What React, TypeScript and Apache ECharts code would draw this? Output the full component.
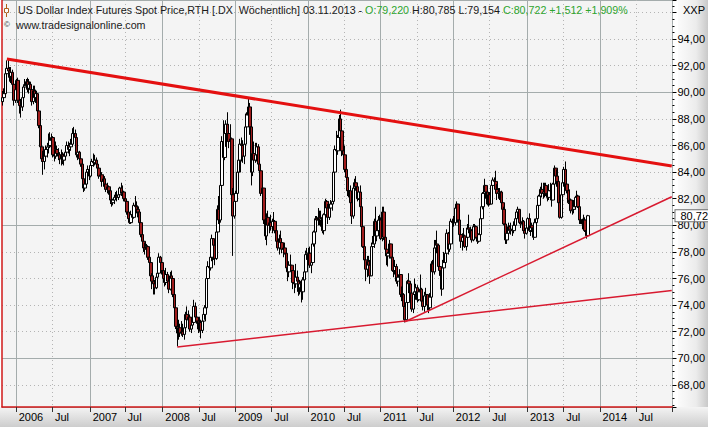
import { useEffect, useRef } from 'react';
import * as echarts from 'echarts';

// ---------- data ----------
const FIRST_WEEK = Date.UTC(2005, 9, 23); // weekly bars, dated on the Sunday ending the week
const WEEK_COUNT = 480; // axis runs to the end of 2014

const firstOpen = 89.3;

const closes = [
  // 2005
  89.6, 89.9, 91.4, 91.8, 91.6, 91.2, 91.5, 90.6, 89.4, 90.2,
  // 2006
  90.9, 89.4, 89.0, 88.9, 89.6, 90.4, 90.5, 90.8, 90.3, 90.6, 90.2, 89.3, 90.1, 89.6, 89.9, 88.6, 87.5, 85.9, 85.0, 84.8, 85.2, 85.7, 85.9, 86.0, 86.4, 86.6, 85.3, 85.2, 85.7, 85.4, 85.3, 85.0, 85.3, 84.9, 85.2, 85.5, 86.0, 85.7, 85.9, 86.1, 86.9, 86.9, 86.6, 85.3, 85.5, 85.0, 84.6, 83.5, 82.8, 83.1, 84.0, 84.2, 83.7,
  // 2007
  84.5, 84.8, 84.7, 84.9, 84.6, 84.3, 83.7, 83.8, 83.3, 83.5, 83.1, 82.7, 82.9, 82.6, 81.9, 81.7, 81.9, 82.1, 82.2, 82.1, 82.3, 82.8, 82.4, 82.5, 82.0, 81.8, 81.0, 80.5, 80.2, 80.8, 80.6, 81.5, 81.4, 81.2, 81.0, 80.2, 79.3, 78.8, 78.3, 78.2, 78.4, 77.6, 77.2, 76.2, 75.8, 75.6, 75.3, 76.1, 76.4, 77.6, 77.2, 76.6,
  // 2008
  76.0, 75.7, 76.3, 75.8, 75.2, 76.2, 76.0, 74.8, 73.8, 72.4, 71.9, 72.3, 71.9, 72.0, 71.8, 72.3, 73.3, 72.9, 73.1, 72.2, 72.5, 72.7, 73.9, 73.1, 72.8, 72.2, 72.7, 72.1, 72.8, 73.3, 73.8, 76.0, 76.9, 76.8, 77.6, 79.0, 78.5, 77.5, 79.5, 81.2, 80.4, 83.0, 86.3, 85.1, 86.9, 87.6, 86.9, 86.3, 86.5, 82.3, 80.7, 81.8,
  // 2009
  82.4, 84.0, 84.9, 86.1, 86.0, 85.2, 86.1, 87.4, 88.3, 88.9, 87.4, 84.0, 85.4, 84.9, 85.3, 85.9, 84.6, 84.1, 82.4, 82.8, 80.4, 79.2, 80.6, 80.0, 80.2, 79.9, 80.3, 80.3, 79.6, 78.8, 78.3, 79.0, 78.7, 78.2, 78.3, 77.9, 76.8, 76.5, 77.0, 77.0, 76.6, 75.7, 75.6, 76.1, 75.8, 75.3, 75.6, 75.0, 75.9, 76.5, 77.8, 77.9,
  // 2010
  77.9, 77.0, 77.2, 78.6, 79.5, 80.5, 80.4, 80.6, 80.4, 80.5, 79.6, 80.8, 81.8, 81.3, 80.6, 81.3, 81.6, 81.8, 84.0, 85.7, 85.6, 86.6, 88.0, 87.1, 85.6, 85.3, 84.2, 83.6, 82.6, 82.6, 81.7, 80.7, 82.8, 83.2, 82.9, 82.0, 82.5, 81.4, 79.9, 78.4, 77.4, 76.7, 77.3, 77.0, 76.2, 78.4, 78.6, 80.3, 79.2, 79.6, 80.4, 80.4,
  // 2011
  79.0, 81.0, 79.1, 78.2, 77.7, 77.9, 78.6, 77.6, 76.6, 76.6, 76.9, 75.8, 76.1, 76.3, 74.8, 74.8, 73.9, 72.9, 74.2, 75.8, 75.6, 74.9, 73.7, 74.8, 75.0, 75.3, 74.4, 75.0, 75.2, 74.3, 73.9, 74.7, 74.8, 74.0, 73.8, 74.6, 77.1, 76.5, 78.3, 78.6, 78.5, 76.9, 76.6, 75.2, 76.8, 77.2, 77.9, 79.4, 78.2, 78.6, 80.3, 80.2,
  // 2012
  80.2, 81.3, 81.6, 80.4, 79.3, 78.8, 79.1, 79.2, 78.4, 79.1, 79.8, 79.7, 79.6, 78.9, 79.9, 79.9, 79.1, 78.8, 79.3, 80.5, 81.4, 82.4, 83.0, 82.5, 81.6, 82.3, 81.6, 83.0, 83.4, 83.3, 82.7, 82.4, 82.5, 82.5, 81.7, 81.2, 80.1, 78.9, 79.4, 79.9, 79.6, 79.7, 79.6, 80.0, 80.5, 81.0, 81.2, 80.2, 80.1, 80.3, 79.6, 79.4, 79.8,
  // 2013
  80.5, 79.6, 80.0, 79.8, 79.1, 80.2, 80.5, 81.5, 82.2, 82.7, 82.4, 82.5, 83.0, 82.4, 82.1, 82.6, 82.6, 81.9, 83.1, 84.3, 83.7, 83.3, 81.7, 80.6, 82.3, 83.2, 84.2, 83.1, 82.6, 81.7, 81.9, 81.1, 81.2, 81.4, 82.1, 82.2, 81.4, 80.4, 80.4, 80.1, 80.4, 79.6, 79.22, 80.722,
];

const highs = [
  // 2005
  90.1, 90.3, 91.6, 92.4, 92.5, 91.9, 91.9, 91.7, 90.7, 90.5,
  // 2006
  91.0, 91.1, 89.6, 89.5, 89.9, 90.6, 91.0, 91.0, 91.1, 91.0, 90.8, 90.3, 90.5, 90.5, 90.2, 89.9, 88.8, 87.6, 86.2, 85.6, 85.5, 86.0, 86.2, 86.9, 87.0, 86.9, 86.7, 85.7, 86.3, 86.0, 85.8, 85.5, 85.7, 85.5, 85.4, 85.8, 86.3, 86.3, 86.2, 86.5, 87.3, 87.4, 87.2, 86.7, 85.8, 85.6, 85.3, 84.7, 83.6, 83.5, 84.2, 84.5, 84.4,
  // 2007
  84.7, 85.0, 85.4, 85.3, 85.1, 84.8, 84.5, 84.1, 84.0, 83.8, 83.7, 83.3, 83.2, 83.0, 82.7, 82.1, 82.0, 82.3, 82.5, 82.6, 82.7, 82.9, 83.2, 83.0, 82.6, 82.2, 81.9, 81.1, 80.7, 81.1, 81.2, 81.7, 82.2, 81.8, 81.5, 81.1, 80.3, 79.4, 78.9, 78.7, 78.6, 78.5, 77.8, 77.3, 76.4, 76.2, 75.9, 76.4, 76.9, 77.9, 77.7, 77.3,
  // 2008
  76.8, 76.3, 76.8, 76.5, 76.0, 76.5, 76.6, 76.1, 74.9, 73.9, 72.8, 72.9, 72.6, 72.8, 72.6, 72.6, 73.5, 73.9, 73.6, 73.3, 72.8, 73.4, 74.4, 74.2, 73.4, 73.0, 73.1, 72.9, 73.2, 73.6, 74.0, 76.2, 77.3, 77.6, 77.9, 79.3, 79.0, 78.9, 80.0, 81.5, 82.2, 83.3, 86.7, 87.9, 87.4, 87.9, 88.5, 87.6, 87.6, 86.6, 82.8, 82.4,
  // 2009
  82.6, 84.3, 85.6, 86.5, 86.6, 86.4, 86.4, 88.4, 88.5, 89.6, 89.2, 87.6, 85.9, 86.3, 86.2, 86.2, 86.1, 85.5, 84.2, 83.3, 82.8, 80.6, 80.9, 81.1, 80.6, 80.8, 80.5, 81.0, 80.4, 79.6, 79.3, 79.3, 79.6, 79.0, 78.6, 78.7, 78.0, 77.0, 77.3, 77.8, 77.0, 76.6, 75.9, 77.1, 76.6, 75.9, 75.9, 75.6, 76.1, 76.9, 78.1, 78.3,
  // 2010
  78.3, 78.4, 77.6, 78.8, 79.6, 80.7, 80.7, 81.3, 81.1, 81.1, 80.5, 80.9, 82.0, 81.9, 81.6, 81.5, 81.9, 82.2, 84.4, 86.0, 87.1, 86.8, 88.3, 88.7, 87.2, 86.2, 86.0, 84.4, 84.0, 83.0, 83.0, 82.0, 83.2, 83.5, 83.7, 83.0, 82.8, 83.0, 81.5, 80.0, 78.6, 77.6, 77.7, 77.7, 77.4, 78.7, 79.2, 80.5, 81.4, 80.2, 80.7, 80.8,
  // 2011
  80.6, 81.4, 81.4, 79.2, 78.4, 78.0, 78.9, 78.6, 77.7, 77.0, 77.4, 77.1, 76.4, 76.7, 76.3, 75.4, 74.9, 74.0, 74.5, 75.9, 76.4, 75.7, 75.0, 75.0, 76.0, 75.6, 75.5, 75.3, 76.3, 75.3, 74.4, 75.0, 75.3, 74.8, 74.7, 74.9, 77.3, 77.4, 78.9, 78.9, 79.6, 78.5, 77.6, 76.8, 77.4, 78.0, 78.4, 79.7, 79.5, 79.0, 80.5, 80.5,
  // 2012
  80.7, 81.5, 81.8, 81.6, 80.6, 79.4, 79.4, 79.8, 79.3, 79.6, 80.1, 80.8, 79.9, 79.6, 80.1, 80.1, 80.0, 79.2, 79.4, 80.6, 81.8, 82.5, 83.5, 83.0, 82.5, 82.5, 82.5, 83.2, 83.6, 83.6, 84.1, 83.1, 82.8, 82.8, 82.6, 81.8, 81.4, 80.2, 79.6, 80.2, 80.0, 80.2, 79.9, 80.3, 80.8, 81.1, 81.4, 81.2, 80.4, 80.6, 80.4, 79.7, 80.1,
  // 2013
  80.6, 80.9, 80.5, 80.2, 79.8, 80.5, 80.9, 81.6, 82.3, 82.9, 83.2, 83.2, 83.2, 83.2, 82.8, 83.1, 83.2, 82.7, 83.2, 84.5, 84.3, 84.2, 83.6, 81.9, 82.4, 83.4, 84.4, 84.8, 83.3, 82.7, 82.7, 82.0, 81.8, 81.9, 82.2, 82.6, 82.3, 81.5, 80.6, 80.5, 80.8, 80.6, 79.7, 80.785,
];

const lows = [
  // 2005
  89.0, 89.3, 89.7, 91.0, 91.1, 90.8, 90.7, 90.3, 89.0, 89.2,
  // 2006
  89.9, 89.2, 88.4, 88.1, 88.6, 89.4, 90.1, 90.2, 90.0, 89.9, 89.9, 89.0, 89.1, 89.4, 89.2, 88.3, 87.3, 85.6, 84.8, 83.8, 84.2, 84.9, 85.1, 85.4, 85.8, 85.9, 85.1, 84.8, 85.0, 85.2, 84.9, 84.6, 84.5, 84.6, 84.5, 84.9, 85.3, 85.4, 85.2, 85.6, 86.0, 86.4, 86.2, 85.1, 84.9, 84.7, 84.4, 83.2, 82.5, 82.6, 82.9, 83.7, 83.4,
  // 2007
  83.6, 84.2, 84.4, 84.5, 84.3, 84.0, 83.5, 83.3, 82.9, 82.9, 82.8, 82.5, 82.4, 82.3, 81.6, 81.4, 81.5, 81.6, 81.9, 81.8, 81.9, 82.1, 82.2, 82.2, 81.8, 81.5, 80.8, 80.3, 80.1, 80.1, 80.3, 80.5, 81.0, 80.9, 80.6, 80.0, 79.1, 78.5, 78.0, 77.8, 77.6, 77.4, 77.0, 76.0, 75.2, 74.8, 74.8, 75.2, 75.8, 76.3, 76.9, 76.3,
  // 2008
  75.8, 75.4, 75.5, 75.6, 74.9, 75.1, 75.6, 74.6, 73.6, 72.2, 70.9, 71.4, 71.6, 71.7, 71.6, 71.4, 72.2, 72.7, 72.6, 72.0, 71.9, 72.3, 72.6, 72.9, 72.6, 71.9, 72.0, 71.5, 71.9, 72.6, 72.9, 73.6, 75.8, 76.1, 76.6, 77.3, 77.4, 77.0, 77.4, 79.3, 80.1, 80.2, 82.8, 84.6, 84.9, 85.9, 86.3, 85.8, 85.4, 81.9, 77.7, 80.5,
  // 2009
  80.9, 81.9, 83.5, 84.0, 84.8, 84.7, 84.6, 85.9, 86.6, 87.7, 86.8, 83.0, 83.7, 84.5, 84.7, 84.8, 84.4, 83.6, 82.2, 81.9, 80.1, 78.9, 78.5, 79.8, 79.4, 79.6, 79.4, 79.9, 79.4, 78.6, 78.1, 77.8, 78.4, 77.9, 77.6, 77.8, 76.7, 75.8, 76.1, 76.6, 75.9, 75.2, 74.9, 75.3, 75.0, 74.7, 74.8, 74.2, 74.4, 75.5, 76.3, 77.4,
  // 2010
  77.5, 76.8, 76.4, 77.1, 78.4, 78.9, 79.5, 80.0, 80.0, 79.9, 79.4, 79.3, 80.7, 81.0, 80.1, 80.4, 81.1, 81.1, 81.6, 82.3, 85.0, 85.3, 86.5, 86.8, 85.2, 85.0, 84.0, 83.3, 82.2, 82.1, 81.6, 80.1, 80.5, 82.5, 82.6, 81.8, 81.9, 81.2, 79.7, 78.3, 77.0, 75.8, 76.1, 76.7, 75.6, 76.3, 77.8, 78.3, 79.0, 78.8, 79.3, 80.1,
  // 2011
  78.9, 78.8, 78.9, 77.9, 77.0, 76.9, 77.5, 77.5, 76.5, 76.1, 76.3, 75.6, 75.4, 75.7, 74.6, 74.3, 73.7, 72.7, 72.9, 74.0, 74.9, 74.7, 73.5, 73.4, 74.4, 74.4, 74.2, 74.3, 74.7, 74.1, 73.6, 73.5, 73.9, 73.6, 73.4, 73.6, 74.5, 76.2, 76.3, 77.3, 77.9, 76.8, 76.2, 74.7, 75.3, 76.7, 77.1, 78.0, 77.8, 78.0, 78.5, 79.8,
  // 2012
  79.9, 80.0, 80.8, 80.2, 79.2, 78.3, 78.1, 78.8, 78.3, 78.1, 78.7, 79.4, 79.1, 78.7, 78.8, 79.3, 79.0, 78.6, 78.7, 79.3, 80.5, 81.2, 82.4, 82.0, 81.5, 81.4, 81.5, 81.6, 82.6, 82.9, 82.4, 81.9, 82.0, 81.9, 81.5, 81.0, 80.0, 78.6, 78.6, 79.3, 79.4, 79.3, 79.2, 79.4, 79.7, 80.3, 80.8, 80.1, 79.8, 79.6, 79.4, 79.0, 79.3,
  // 2013
  79.6, 79.5, 79.2, 79.5, 78.9, 79.1, 79.9, 80.4, 80.9, 81.7, 82.1, 82.0, 82.1, 82.2, 81.8, 81.9, 82.4, 81.4, 81.9, 83.0, 83.2, 82.9, 81.5, 80.5, 80.5, 82.1, 82.9, 82.9, 82.4, 81.6, 81.4, 80.9, 80.8, 80.9, 81.2, 81.6, 81.3, 80.1, 80.1, 79.7, 79.8, 79.5, 79.0, 79.154,
];

// trend lines: [week index, value]
const upperTrend = [[3, 92.5], [479, 84.46]];
const lowerTrend2008 = [[125, 70.85], [479, 75.1]];
const lowerTrend2011 = [[288, 72.75], [479, 82.15]];

const TITLE_MAIN = 'US Dollar Index Futures Spot Price,RTH [.DX  Wöchentlich] 03.11.2013 - ';
const TITLE_O = 'O:79,220';
const TITLE_HL = ' H:80,785 L:79,154 ';
const TITLE_C = 'C:80,722 +1,512 +1,909%';
const URL_TEXT = 'www.tradesignalonline.com';
const AXIS_NAME = 'XXP';
const LAST_CLOSE_LABEL = '80,722';

const Y_MIN = 66.34;
const Y_MAX = 96.94;
const Y_LABEL_TOP = 94;

// ---------- derived ----------
const weeks: string[] = Array.from({ length: WEEK_COUNT }, (_, i) =>
  new Date(FIRST_WEEK + i * 7 * 86400000).toISOString().slice(0, 10)
);
const isYearStart = (i: number) => {
  const d = weeks[i];
  return !!d && d.slice(5, 7) === '01' && Number(d.slice(8, 10)) <= 7;
};
const isJulStart = (i: number) => {
  const d = weeks[i];
  return !!d && d.slice(5, 7) === '07' && Number(d.slice(8, 10)) <= 7;
};
const candles = closes.map((c, i) => {
  const o = i === 0 ? firstOpen : closes[i - 1];
  return [o, c, Math.min(lows[i], o, c), Math.max(highs[i], o, c)];
});

const FONT = '"Liberation Sans", Arial, sans-serif';
const TITLE_SIZE = 10.7;

export default function App() {
  const ref = useRef<HTMLDivElement>(null);
  useEffect(() => {
    if (!ref.current) return;
    const chart = echarts.init(ref.current, undefined, { renderer: 'svg' });
    const option: any = {
      animation: false,
      backgroundColor: '#ffffff',
      title: [
        {
          text: `{k|${TITLE_MAIN}}{g|${TITLE_O}}{k|${TITLE_HL}}{g|${TITLE_C}}`,
          left: 18,
          top: 4,
          padding: 0,
          textStyle: {
            fontSize: TITLE_SIZE,
            fontFamily: FONT,
            fontWeight: 'normal',
            rich: {
              k: { color: '#1a1a1a', fontSize: TITLE_SIZE, fontFamily: FONT },
              g: { color: '#2ea52e', fontSize: TITLE_SIZE, fontFamily: FONT },
            },
          },
        },
        {
          text: URL_TEXT,
          left: 16,
          top: 19,
          padding: 0,
          textStyle: { color: '#1a1a1a', fontSize: TITLE_SIZE, fontFamily: FONT, fontWeight: 'normal' },
        },
      ],
      grid: { left: 2, right: 30, top: 0, bottom: 20, show: true, backgroundColor: '#f4f4f4', borderWidth: 0 },
      xAxis: [
        {
          type: 'category',
          data: weeks,
          boundaryGap: true,
          position: 'bottom',
          axisLine: { show: true, lineStyle: { color: '#d01818', width: 1.5 } },
          axisTick: {
            show: true,
            interval: (i: number) => isYearStart(i) || isJulStart(i),
            length: 5,
            lineStyle: { color: '#333' },
          },
          axisLabel: {
            show: true,
            interval: (i: number) => isYearStart(i) || isJulStart(i),
            formatter: (v: string) => (v.slice(5, 7) === '01' ? v.slice(0, 4) : 'Jul'),
            align: 'left',
            margin: 4,
            padding: [0, 0, 0, 2],
            color: '#000',
            fontSize: 11,
            fontFamily: FONT,
          },
          splitLine: {
            show: true,
            interval: (i: number) => isYearStart(i),
            lineStyle: { color: '#a4acac', width: 1 },
          },
        },
        {
          type: 'category',
          data: weeks,
          boundaryGap: true,
          position: 'bottom',
          axisLine: { show: false },
          axisTick: { show: false },
          axisLabel: { show: false },
          splitLine: {
            show: true,
            interval: (i: number) => isJulStart(i),
            lineStyle: { color: '#b4b4b4', width: 1, type: [1, 3] },
          },
        },
      ],
      yAxis: [
        {
          type: 'value',
          position: 'right',
          min: Y_MIN,
          max: Y_MAX,
          splitNumber: 15,
          axisLine: { show: false },
          axisTick: { show: true, length: 4, lineStyle: { color: '#000' } },
          minorTick: { show: true, splitNumber: 4, length: 2, lineStyle: { color: '#000' } },
          axisLabel: {
            color: '#000',
            fontSize: 11,
            fontFamily: FONT,
            margin: 5,
            formatter: (v: number) => {
              const r = Math.round(v);
              if (Math.abs(v - r) > 1e-6 || r % 2 !== 0 || r > Y_LABEL_TOP) return '';
              return v.toFixed(2).replace('.', ',');
            },
          },
          splitLine: { show: true, lineStyle: { color: '#b4b4b4', width: 1, type: [1, 3] } },
        },
        {
          type: 'value',
          position: 'left',
          min: Y_MIN,
          max: Y_MAX,
          splitNumber: 3,
          axisLine: { show: true, lineStyle: { color: '#d01818', width: 1.5 } },
          axisTick: { show: false },
          axisLabel: { show: false },
          splitLine: { show: true, lineStyle: { color: '#a4acac', width: 1 } },
        },
      ],
      graphic: [
        {
          type: 'rect',
          z: -10,
          silent: true,
          shape: { x: 678, y: 0, width: 30, height: 407 },
          style: {
            fill: new echarts.graphic.LinearGradient(0, 0, 1, 0, [
              { offset: 0, color: '#fbfbfb' },
              { offset: 0.6, color: '#ececec' },
              { offset: 1, color: '#c9c9c9' },
            ]),
          },
        },
        {
          type: 'rect',
          z: -10,
          silent: true,
          shape: { x: 0, y: 407, width: 708, height: 20 },
          style: {
            fill: new echarts.graphic.LinearGradient(0, 0, 0, 1, [
              { offset: 0, color: '#f4f4f4' },
              { offset: 1, color: '#cdcdcd' },
            ]),
          },
        },
        {
          type: 'text',
          z: 10,
          silent: true,
          x: 683,
          y: 4,
          style: { text: AXIS_NAME, fill: '#000', fontSize: 11, fontFamily: FONT },
        },
        {
          type: 'text',
          z: 10,
          silent: true,
          x: 4,
          y: 20,
          style: { text: '©', fill: '#333', fontSize: 8, fontFamily: FONT },
        },
        {
          type: 'group',
          z: 10,
          silent: true,
          children: [
            { type: 'line', shape: { x1: 6.5, y1: 4, x2: 6.5, y2: 17 }, style: { stroke: '#b0601c', lineWidth: 1 } },
            { type: 'rect', shape: { x: 4.5, y: 8.5, width: 4, height: 4 }, style: { fill: '#ffffff', stroke: '#b0601c', lineWidth: 1 } },
          ],
        },
      ],
      series: [
        {
          type: 'candlestick',
          xAxisIndex: 0,
          yAxisIndex: 0,
          data: candles,
          barWidth: 3,
          itemStyle: {
            color: '#ffffff',
            color0: '#a01c1c',
            borderColor: '#000000',
            borderColor0: '#000000',
            borderColorDoji: '#000000',
            borderWidth: 1,
          },
          markLine: {
            silent: true,
            symbol: 'none',
            animation: false,
            lineStyle: { color: 'rgba(0,0,0,0)', width: 0 },
            label: {
              show: true,
              position: 'end',
              formatter: LAST_CLOSE_LABEL,
              backgroundColor: '#ffffff',
              borderColor: '#707070',
              borderWidth: 1,
              padding: [0, 3, 0, 5],
              color: '#000',
              fontSize: 11,
              fontFamily: FONT,
              distance: 3,
            },
            data: [{ yAxis: closes[closes.length - 1] }],
          },
        },
        {
          type: 'line',
          xAxisIndex: 0,
          yAxisIndex: 0,
          data: upperTrend,
          symbol: 'none',
          silent: true,
          z: 5,
          lineStyle: { color: '#e41010', width: 3 },
        },
        {
          type: 'line',
          xAxisIndex: 0,
          yAxisIndex: 0,
          data: lowerTrend2008,
          symbol: 'none',
          silent: true,
          z: 5,
          lineStyle: { color: '#d81a30', width: 1.5 },
        },
        {
          type: 'line',
          xAxisIndex: 0,
          yAxisIndex: 0,
          data: lowerTrend2011,
          symbol: 'none',
          silent: true,
          z: 5,
          lineStyle: { color: '#d81a30', width: 1.5 },
        },
      ],
    };
    chart.setOption(option);
    return () => chart.dispose();
  }, []);
  return (
    <div
      ref={ref}
      style={{ position: 'fixed', left: 0, top: 0, width: 708, height: 427, overflow: 'hidden' }}
    />
  );
}
